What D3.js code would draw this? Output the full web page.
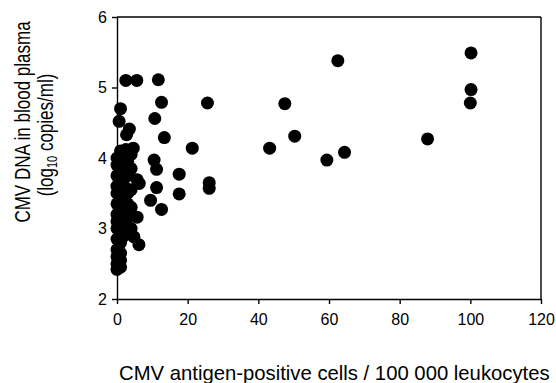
<!DOCTYPE html>
<html><head><meta charset="utf-8">
<script src="https://cdn.jsdelivr.net/npm/d3@7"></script>
<style>body{margin:0;background:#fff}svg{display:block}text{font-family:Arial,"Liberation Sans",sans-serif}</style>
</head><body><svg id="c" width="556" height="383"></svg>
<script>
const xValues = [100.2,100.2,100.0,87.9,62.5,64.4,59.4,47.5,50.3,43.2,25.6,21.3,26.1,26.1,17.6,17.6,11.7,12.6,10.7,13.4,10.5,11.2,11.2,9.5,12.6,
  2.5,5.6,1.0,0.6,3.5,2.7,4.6,5.7,6.3,5.7,4.8,6.2,
  0,0,0,0,0,0,0,0,0,0,0,0,0,0,
  1,1,1,1,1,1,1,1,1,1,1,1,1,
  2,2,2,2,2,2,2,2,
  3,3,3,3,3,3,3,
  4,4,4,4,4, 1,2.5,3.5];
const yValues = [5.49,4.97,4.78,4.27,5.38,4.08,3.97,4.77,4.31,4.14,4.78,4.14,3.65,3.57,3.77,3.49,5.11,4.79,4.56,4.29,3.97,3.84,3.58,3.40,3.27,
  5.1,5.1,4.70,4.52,4.41,4.33,4.14,3.69,3.64,3.16,2.88,2.77,
  2.42,2.5,2.6,2.7,2.85,3.0,3.1,3.2,3.35,3.5,3.6,3.75,3.9,4.0,
  2.45,2.55,2.65,2.8,2.95,3.05,3.25,3.4,3.55,3.7,3.85,3.95,4.05,
  2.9,3.1,3.3,3.45,3.6,3.8,4.0,4.1,
  2.95,3.15,3.35,3.5,3.75,3.95,4.1,
  3.0,3.3,3.55,3.85,4.05, 4.1,4.12,4.05];
const xTicks = [0,20,40,60,80,100,120];
const yTicks = [2,3,4,5,6];
const xTitle = "CMV antigen-positive cells / 100 000 leukocytes";
const yTitle1 = "CMV DNA in blood plasma";

const svg = d3.select("#c");
const L=117, R=541, T=17, B=299;
const x = d3.scaleLinear().domain([0,120]).range([L,R]);
const y = d3.scaleLinear().domain([2,6]).range([B,T]);

svg.append("line").attr("x1",L).attr("x2",R).attr("y1",T).attr("y2",T).attr("stroke","#000").attr("stroke-width",1.4);
svg.append("line").attr("x1",R).attr("x2",R).attr("y1",T).attr("y2",B).attr("stroke","#000").attr("stroke-width",1.4);

const gx = svg.append("g").attr("transform",`translate(0,${B})`);
gx.call(d3.axisBottom(x).tickValues(d3.range(0,121,5)).tickSize(3).tickFormat(""))
  .call(g=>g.select(".domain").remove());
gx.call(d3.axisBottom(x).tickValues(xTicks).tickSize(5).tickSizeOuter(0).tickPadding(10).tickFormat(d3.format("d")));
gx.selectAll("line").attr("stroke-width",1.4);
gx.select(".domain").attr("stroke-width",1.4);
gx.selectAll("text").attr("font-size",16).attr("fill","#000");

const gy = svg.append("g").attr("transform",`translate(${L},0)`);
gy.call(d3.axisLeft(y).tickValues(yTicks).tickSize(5).tickSizeOuter(0).tickPadding(5).tickFormat(d3.format("d")));
gy.selectAll("line").attr("stroke-width",1.4);
gy.select(".domain").attr("stroke-width",1.4);
gy.selectAll("text").attr("font-size",16).attr("fill","#000");

const pts = xValues.map((v,i)=>({x:v,y:yValues[i]}));
svg.append("g").selectAll("circle").data(pts).join("circle")
  .attr("cx",d=>x(d.x)).attr("cy",d=>y(d.y)).attr("r",6.5).attr("fill","#000");

svg.append("text").attr("x",119).attr("y",380).attr("font-size",20.3).attr("fill","#000").text(xTitle);
svg.append("text").attr("transform","translate(30,122) rotate(-90) scale(1,1.35)").attr("text-anchor","middle").attr("font-size",17).attr("fill","#000").text(yTitle1);
const t2 = svg.append("text").attr("transform","translate(53,135) rotate(-90) scale(1,1.35)").attr("text-anchor","middle").attr("font-size",17).attr("fill","#000");
t2.append("tspan").text("(log");
t2.append("tspan").attr("font-size",11).attr("dy",3).text("10");
t2.append("tspan").attr("dy",-3).text(" copies/ml)");
</script></body></html>
